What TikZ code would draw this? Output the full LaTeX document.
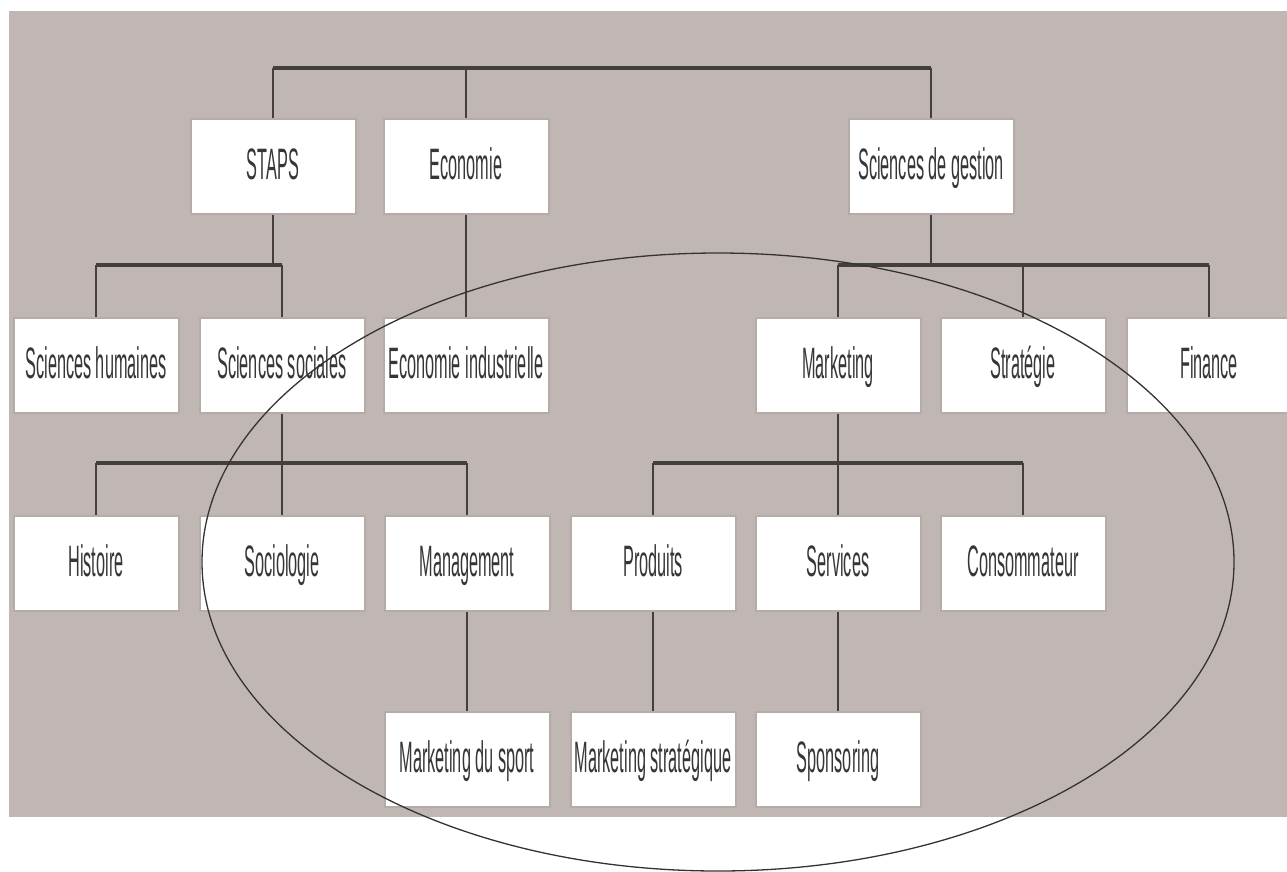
\documentclass[tikz,border=0pt]{standalone}
\usepackage{fontspec}
\newfontfamily\boxfont[FakeStretch=0.37]{Liberation Sans}
\definecolor{taupe}{RGB}{192,183,180}
\definecolor{boxedge}{RGB}{181,171,167}
\definecolor{inkline}{RGB}{68,63,63}
\definecolor{inktext}{RGB}{55,53,53}
\begin{document}
\begin{tikzpicture}[x=1pt, y=-1pt,
    every node/.style={font=\boxfont\fontsize{44}{50}\selectfont, text=inktext},
    field/.style={draw=boxedge, line width=2pt, fill=white, minimum width=165pt, minimum height=95pt,
      inner sep=0pt, text height=32pt, text depth=6pt},
    bar/.style={draw=inkline, line width=3.4pt},
    link/.style={draw=inkline, line width=1.3pt}]
  \useasboundingbox (0,0) rectangle (1287,871);
  \fill[taupe] (9,11) rectangle (1287,817);

  \coordinate (top) at (0,68);
  \coordinate (mid) at (0,265);
  \coordinate (low) at (0,463);

  \node[field] (staps) at (273,166.5) {STAPS};
  \node[field] (eco) at (466,166.5) {Economie};
  \node[field] (gestion) at (931,166.5) {Sciences de gestion};

  \node[field] (humaines) at (96,365) {Sciences humaines};
  \node[field] (sociales) at (282,365) {Sciences sociales};
  \node[field] (ecoind) at (466,365) {Economie industrielle};
  \node[field] (marketing) at (838,365) {Marketing};
  \node[field] (strategie) at (1023,365) {Stratégie};
  \node[field] (finance) at (1209,365) {Finance};

  \node[field] (histoire) at (96,563) {Histoire};
  \node[field] (socio) at (282,563) {Sociologie};
  \node[field] (manag) at (467,563) {Management};
  \node[field] (produits) at (653,563) {Produits};
  \node[field] (services) at (838,563) {Services};
  \node[field] (conso) at (1023,563) {Consommateur};

  \node[field] (mksport) at (467,759) {Marketing du sport};
  \node[field] (mkstrat) at (653,759) {Marketing stratégique};
  \node[field] (sponso) at (838,759) {Sponsoring};

  \draw[bar] (staps |- top) -- (gestion |- top);
  \draw[link] (staps.north) -- (staps |- top) (eco.north) -- (eco |- top) (gestion.north) -- (gestion |- top);

  \draw[bar] (humaines |- mid) -- (sociales |- mid);
  \draw[link] (staps.south) -- (staps |- mid) (humaines.north) -- (humaines |- mid) (sociales.north) -- (sociales |- mid);
  \draw[link] (eco.south) -- (ecoind.north);
  \draw[bar] (marketing |- mid) -- (finance |- mid);
  \draw[link] (gestion.south) -- (gestion |- mid) (marketing.north) -- (marketing |- mid)
    (strategie.north) -- (strategie |- mid) (finance.north) -- (finance |- mid);

  \draw[bar] (histoire |- low) -- (manag |- low);
  \draw[link] (sociales.south) -- (sociales |- low) (histoire.north) -- (histoire |- low)
    (socio.north) -- (socio |- low) (manag.north) -- (manag |- low);
  \draw[bar] (produits |- low) -- (conso |- low);
  \draw[link] (marketing.south) -- (marketing |- low) (produits.north) -- (produits |- low)
    (services.north) -- (services |- low) (conso.north) -- (conso |- low);

  \draw[link] (manag.south) -- (mksport.north) (produits.south) -- (mkstrat.north) (services.south) -- (sponso.north);

  \draw[line width=1.3pt, draw=black!80] (718,562) ellipse [x radius=516, y radius=309];
\end{tikzpicture}
\end{document}
